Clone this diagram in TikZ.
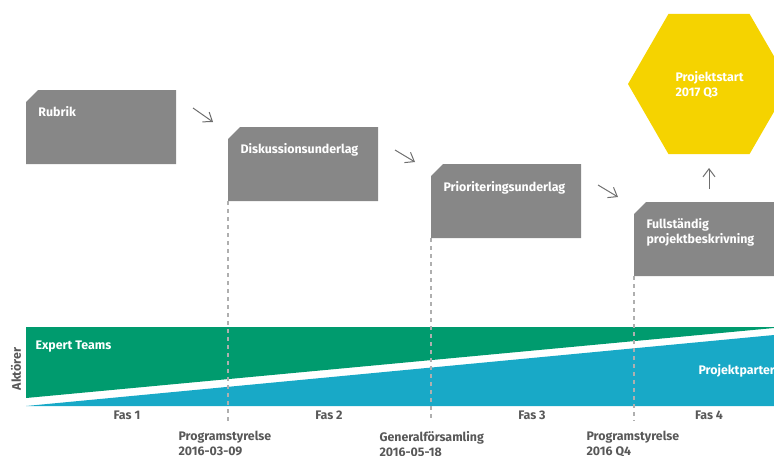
\documentclass[tikz,border=0pt]{standalone}
\usepackage{fontspec}
\setmainfont{Fira Sans}
\usetikzlibrary{shapes.geometric,arrows.meta,calc}

\definecolor{boxgray}{RGB}{135,135,135}
\definecolor{teamgreen}{RGB}{0,155,110}
\definecolor{partblue}{RGB}{24,169,199}
\definecolor{hexyellow}{RGB}{245,211,0}
\definecolor{labelgray}{RGB}{88,88,88}
\definecolor{arrowgray}{RGB}{110,110,110}
\definecolor{dashgray}{RGB}{175,175,175}

\tikzset{every picture/.style={line width=0.75pt}}
\tikzset{
  docbox/.style={rectangle, minimum width=112.5pt, minimum height=55.5pt,
    inner sep=0pt, outer sep=0pt, anchor=north west},
  boxtext/.style={text=white, font=\bfseries\fontsize{9.3}{11.25}\selectfont,
    anchor=west, inner sep=0pt, align=left},
  phasetext/.style={text=labelgray, font=\bfseries\fontsize{9.3}{11.25}\selectfont,
    inner sep=0pt},
  datetext/.style={text=labelgray, font=\bfseries\fontsize{9.3}{11.25}\selectfont,
    anchor=north west, inner sep=0pt, align=left},
  sketcharrow/.style={draw=arrowgray, line width=0.75pt,
    -{Straight Barb[length=6pt,width=9pt]}},
  phaseline/.style={draw=dashgray, line width=0.9pt, dash pattern={on 3pt off 3pt}}
}

\begin{document}
\begin{tikzpicture}[x=0.75pt,y=0.75pt,yscale=-1,xscale=1]
\useasboundingbox (0,0) rectangle (774,455);
\clip (0,0) rectangle (774,455);

%Band: Expert Teams
\fill [teamgreen] (26,327) -- (774,327) -- (774,328) -- (26,398) -- cycle;
%Band: Projektparter
\fill [partblue] (26,406) -- (774,335) -- (774,406) -- cycle;

%Document boxes
\node [docbox] (rubrik) at (26,90) {};
\node [docbox] (diskussion) at (228,127) {};
\node [docbox] (prioritering) at (431,164) {};
\node [docbox, minimum width=120pt] (fullstandig) at (634,202) {};
%Box fill with cut corner
\foreach \b in {rubrik,diskussion,prioritering,fullstandig}
  \fill [boxgray] ($(\b.north west)+(0,12)$) -- ($(\b.north west)+(12,0)$) -- (\b.north east)
    -- (\b.south east) -- (\b.south west) -- cycle;
%Hexagon
\node [regular polygon, regular polygon sides=6, minimum size=121.5pt,
  fill=hexyellow, inner sep=0pt] (projektstart) at (709,84) {};

% Text Node
\node [boxtext] (rubriktxt) at (38,112) {Rubrik};
% Text Node
\node [boxtext] (disktxt) at (240,150) {Diskussionsunderlag};
% Text Node
\node [boxtext] (priotxt) at (443,188) {Prioriteringsunderlag};
% Text Node
\node [boxtext] (fulltxt) at (646,232) {Fullständig\\projektbeskrivning};
% Text Node
\node [boxtext] (starttxt) at (675,85) {Projektstart\\2017 Q3};

%Sketch arrows
\coordinate (a1s) at (193,108); \coordinate (a1e) at (213,122);
\coordinate (a2s) at (395,150); \coordinate (a2e) at (415,162);
\coordinate (a3s) at (598,185); \coordinate (a3e) at (618,197);
\coordinate (a4s) at (709,189); \coordinate (a4e) at (709,168);
\draw [sketcharrow] (a1s) -- (a1e);
\draw [sketcharrow] (a2s) -- (a2e);
\draw [sketcharrow] (a3s) -- (a3e);
\draw [sketcharrow] (a4s) -- (a4e);

%Phase lines
\coordinate (m1) at (228,421);
\coordinate (m2) at (431,421);
\coordinate (m3) at (634,421);
\draw [phaseline] (diskussion.south west) -- (m1);
\draw [phaseline] (prioritering.south west) -- (m2);
\draw [phaseline] (fullstandig.south west) -- (m3);

% Text Node
\node [boxtext] (experttxt) at (35,347) {Expert Teams};
% Text Node
\node [boxtext] (parttxt) at (698,371) {Projektparter};
% Text Node
\node [phasetext, rotate=90] (aktorer) at (16,369) {Aktörer};

% Text Node
\node [phasetext] (fas1) at (127,415) {Fas 1};
% Text Node
\node [phasetext] (fas2) at (329,415) {Fas 2};
% Text Node
\node [phasetext] (fas3) at (532,415) {Fas 3};
% Text Node
\node [phasetext] (fas4) at (709,415) {Fas 4};

% Text Node
\node [datetext] (date1) at (178,431) {Programstyrelse\\2016-03-09};
% Text Node
\node [datetext] (date2) at (379,431) {Generalförsamling\\2016-05-18};
% Text Node
\node [datetext] (date3) at (586,431) {Programstyrelse\\2016 Q4};

\end{tikzpicture}
\end{document}
